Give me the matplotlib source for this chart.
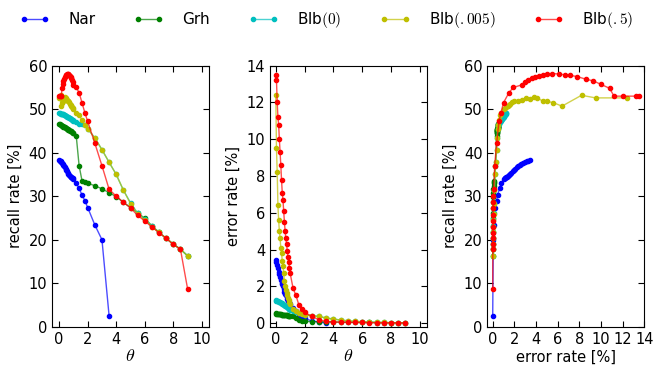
import matplotlib
matplotlib.use("Agg")
import matplotlib.pyplot as plt
from matplotlib.colors import to_rgba

plt.rcParams['mathtext.fontset'] = 'cm'
plt.rcParams['xtick.direction'] = 'in'
plt.rcParams['ytick.direction'] = 'in'
plt.rcParams['xtick.top'] = True
plt.rcParams['ytick.right'] = True
plt.rcParams['font.size'] = 10.5

# threshold grid
theta = [0, .05, .1, .15, .2, .25, .3, .35, .4, .45, .5, .55, .6, .65, .7, .75, .8, .85, .9, .95,
         1.0, 1.2, 1.4, 1.6, 1.8, 2.0, 2.5, 3.0, 3.5, 4.0, 4.5, 5.0, 5.5, 6.0, 6.5, 7.0, 7.5, 8.0, 8.5, 9.0]
theta_nar = theta[:29]

# Nar
recall_nar = [38.3, 38.2, 38.1, 37.9, 37.7, 37.5, 37.2, 36.9, 36.6, 36.3, 36.0, 35.7, 35.4, 35.1, 34.9,
              34.7, 34.5, 34.3, 34.2, 34.1, 34.0, 33.0, 31.8, 30.3, 29.0, 27.4, 23.4, 20.0, 2.5]
error_nar = [3.45, 3.3, 3.15, 3.0, 2.8, 2.65, 2.5, 2.35, 2.2, 2.1, 2.0, 1.85, 1.7, 1.6, 1.5,
             1.4, 1.3, 1.22, 1.15, 1.1, 1.05, 0.8, 0.64, 0.45, 0.36, 0.25, 0.12, 0.05, 0.0]

# Grh
recall_grh = [46.6, 46.5, 46.4, 46.3, 46.2, 46.1, 46.0, 45.9, 45.8, 45.7, 45.6, 45.5, 45.4, 45.3, 45.2,
              45.1, 45.0, 44.9, 44.8, 44.6, 44.5, 43.8, 37.0, 33.6, 33.3, 33.0, 32.4, 31.7, 30.8, 29.9,
              28.6, 27.4, 26.2, 24.9, 23.2, 21.7, 20.3, 19.0, 17.8, 16.3]
error_grh = [0.52, 0.51, 0.5, 0.49, 0.49, 0.48, 0.47, 0.47, 0.46, 0.45, 0.45, 0.44, 0.43, 0.43, 0.42,
             0.41, 0.41, 0.4, 0.39, 0.39, 0.38, 0.36, 0.25, 0.14, 0.1, 0.09, 0.08, 0.07, 0.06, 0.05,
             0.05, 0.04, 0.04, 0.03, 0.03, 0.02, 0.02, 0.01, 0.01, 0.01]

# Blb(0)
recall_b0 = [49.1, 49.1, 49.0, 49.0, 48.9, 48.9, 48.8, 48.7, 48.6, 48.5, 48.4, 48.3, 48.2, 48.1, 48.0,
             47.9, 47.8, 47.7, 47.6, 47.5, 47.4, 47.0, 46.6, 46.5, 46.3, 45.5, 43.4, 40.7, 37.8, 35.0,
             31.4, 28.5, 26.1, 24.7, 23.1, 21.7, 20.3, 19.0, 17.8, 16.3]
error_b0 = [1.25, 1.22, 1.2, 1.18, 1.16, 1.14, 1.12, 1.1, 1.08, 1.05, 1.02, 1.0, 0.97, 0.94, 0.91,
            0.88, 0.85, 0.82, 0.79, 0.76, 0.73, 0.66, 0.6, 0.55, 0.5, 0.45, 0.4, 0.36, 0.27, 0.22,
            0.16, 0.12, 0.09, 0.07, 0.05, 0.04, 0.03, 0.02, 0.02, 0.01]

# Blb(.005)
recall_b005 = [52.6, 52.6, 53.2, 50.7, 51.5, 51.8, 51.9, 52.6, 52.9, 52.4, 52.5, 52.2, 52.0, 51.9, 51.6,
               51.3, 51.0, 50.7, 50.4, 50.2, 50.0, 49.2, 48.6, 47.5, 46.3, 45.5, 43.4, 40.7, 37.8, 35.0,
               31.4, 28.3, 26.0, 24.6, 23.0, 21.7, 20.3, 19.0, 17.8, 16.3]
error_b005 = [12.4, 9.5, 8.2, 6.4, 5.6, 5.0, 4.6, 4.1, 3.8, 3.4, 3.1, 2.7, 2.3, 2.0, 1.8,
              1.63, 1.5, 1.38, 1.27, 1.15, 1.05, 0.78, 0.66, 0.56, 0.5, 0.46, 0.4, 0.36, 0.27, 0.22,
              0.16, 0.12, 0.09, 0.07, 0.05, 0.04, 0.03, 0.02, 0.02, 0.01]

# Blb(.5)
recall_b5 = [53.0, 53.0, 53.0, 53.0, 54.8, 55.7, 56.5, 56.9, 57.5, 57.8, 57.9, 58.1, 58.2, 58.1, 57.8,
             57.7, 57.4, 57.2, 56.8, 56.2, 55.6, 55.0, 53.8, 51.5, 49.2, 47.2, 42.2, 37.0, 31.6, 30.0,
             28.6, 27.3, 25.6, 24.3, 22.9, 21.6, 20.3, 18.9, 17.8, 8.7]
error_b5 = [13.5, 13.2, 12.0, 11.2, 10.8, 10.0, 9.3, 8.6, 7.8, 7.1, 6.7, 6.1, 5.5, 5.0, 4.6,
            4.3, 3.9, 3.6, 3.3, 3.0, 2.7, 1.9, 1.5, 1.0, 0.76, 0.58, 0.36, 0.18, 0.09, 0.06,
            0.05, 0.04, 0.03, 0.03, 0.02, 0.02, 0.01, 0.01, 0.01, 0.0]

series = [
    ("Nar", "#0000ff", theta_nar, recall_nar, error_nar),
    ("Grh", "#008000", theta, recall_grh, error_grh),
    ("Blb$(0)$", "#00bfbf", theta, recall_b0, error_b0),
    ("Blb$(.005)$", "#bfbf00", theta, recall_b005, error_b005),
    ("Blb$(.5)$", "#ff0000", theta, recall_b5, error_b5),
]

fig = plt.figure(figsize=(6.53, 3.66), dpi=100)
w, h = 157 / 653, 261 / 366
bottom = 1 - 326.7 / 366
ax1 = fig.add_axes([52 / 653, bottom, w, h])
ax2 = fig.add_axes([270 / 653, bottom, w, h])
ax3 = fig.add_axes([487.3 / 653, bottom, w, h])

for name, c, th, rec, err in series:
    kw = dict(color=to_rgba(c, 0.7), marker='o', markersize=3.0, mfc=c, mec=c, lw=1.0)
    ax1.plot(th, rec, label=name, **kw)
    ax2.plot(th, err, **kw)
    ax3.plot(err, rec, **kw)

ax1.set_xlim(-0.5, 10.5)
ax1.set_ylim(0, 60)
ax1.set_xticks([0, 2, 4, 6, 8, 10])
ax1.set_yticks([0, 10, 20, 30, 40, 50, 60])
ax1.set_xlabel(r"$\theta$", fontsize=13, labelpad=0)
ax1.set_ylabel("recall rate [%]")

ax2.set_xlim(-0.4, 10.5)
ax2.set_ylim(-0.2, 14)
ax2.set_xticks([0, 2, 4, 6, 8, 10])
ax2.set_yticks([0, 2, 4, 6, 8, 10, 12, 14])
ax2.set_xlabel(r"$\theta$", fontsize=13, labelpad=0)
ax2.set_ylabel("error rate [%]")

ax3.set_xlim(-0.5, 14)
ax3.set_ylim(0, 60)
ax3.set_xticks([0, 2, 4, 6, 8, 10, 12, 14])
ax3.set_yticks([0, 10, 20, 30, 40, 50, 60])
ax3.set_xlabel("error rate [%]", labelpad=2)
ax3.set_ylabel("recall rate [%]")

for ax in (ax1, ax2, ax3):
    ax.tick_params(length=4, width=0.8)

fig.legend(*ax1.get_legend_handles_labels(), loc='upper center', ncol=5, frameon=False,
           bbox_to_anchor=(0.5, 1.01), handlelength=2.0, handletextpad=1.2, columnspacing=2.5,
           numpoints=2, fontsize=11)

fig.savefig("out.png", dpi=100)
